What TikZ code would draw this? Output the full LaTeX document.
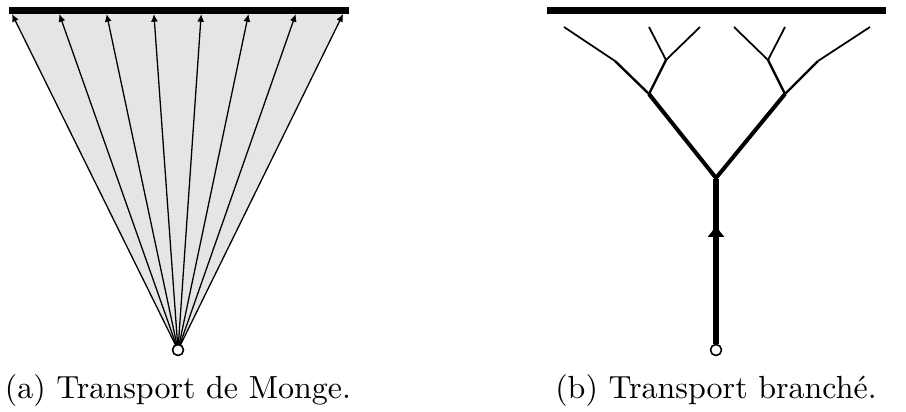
\documentclass[tikz,border=0pt]{standalone}
\usepackage{tikz}
\usetikzlibrary{arrows.meta}

\begin{document}
\begin{tikzpicture}[
    x=0.3125pt, y=-0.3125pt,
    font=\normalsize,
    source/.style={circle, draw, fill=white, inner sep=0pt, minimum size=3.4pt, line width=0.45pt},
    target/.style={line width=2.2pt},
    ray/.style={line width=0.4pt, -{Latex[length=2.4pt,width=2.2pt]}},
    trunk/.style={line width=1.9pt},
    lvlone/.style={line width=1.25pt, line join=round},
    lvltwo/.style={line width=0.75pt, line join=round},
    lvlthree/.style={line width=0.55pt, line join=round}
  ]
    \useasboundingbox (0,0) rectangle (906,412);

    % (a) Monge
    \coordinate (ma) at (9,10.5);
    \coordinate (mb) at (349,10.5);
    \node[source] (msrc) at (178,350) {};
    \fill[gray!20] (msrc.center) -- (12,14) -- (343,14) -- cycle;
    \foreach \i in {0,...,7} {
      \coordinate (mt\i) at ({12+47.3*\i},14);
      \draw[ray] (msrc.center) -- (mt\i);
    }
    \draw[target] (ma) -- (mb);
    \node[source] at (msrc) {};
    \node (capa) at (178,390) {(a) Transport de Monge.};

    % (b) branche
    \coordinate (ba) at (547,10.5);
    \coordinate (bb) at (886,10.5);
    \draw[target] (ba) -- (bb);
    \node[source] (bsrc) at (716,350) {};
    \coordinate (bmid) at (716,224);
    \coordinate (broot) at (716,178);
    \coordinate (bl) at (649,94);
    \coordinate (br) at (785,94);
    \coordinate (bll) at (615,61);
    \coordinate (blr) at (666,60);
    \coordinate (brl) at (768,60);
    \coordinate (brr) at (818,61);
    \coordinate (bl1) at (564,27);
    \coordinate (bl2) at (649,27);
    \coordinate (bl3) at (700,27);
    \coordinate (br1) at (734,27);
    \coordinate (br2) at (785,27);
    \coordinate (br3) at (870,27);
    \draw[trunk] (bsrc) -- ([yshift=-0.3pt]broot);
    \draw[trunk, -{Latex[length=4pt,width=5.5pt]}] (bsrc) -- (bmid);
    \draw[lvlone] (bl) -- (broot) -- (br);
    \draw[lvltwo] (bl) -- (bll);
    \draw[lvltwo] (bl) -- (blr);
    \draw[lvltwo] (br) -- (brl);
    \draw[lvltwo] (br) -- (brr);
    \draw[lvlthree] (bll) -- (bl1);
    \draw[lvlthree] (blr) -- (bl2);
    \draw[lvlthree] (blr) -- (bl3);
    \draw[lvlthree] (brl) -- (br1);
    \draw[lvlthree] (brl) -- (br2);
    \draw[lvlthree] (brr) -- (br3);
    \node[source] at (bsrc) {};
    \node (capb) at (716,390) {(b) Transport branch\'e.};
  \end{tikzpicture}
\end{document}
